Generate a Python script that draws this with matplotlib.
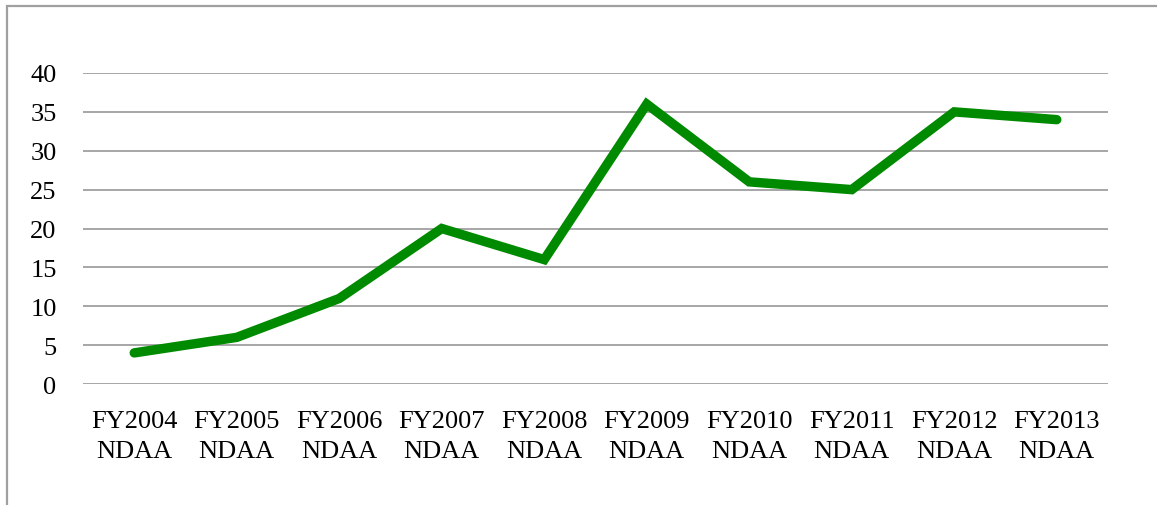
import matplotlib
matplotlib.use("Agg")
import matplotlib.pyplot as plt
from matplotlib.patches import Rectangle

categories = ["FY2004\nNDAA", "FY2005\nNDAA", "FY2006\nNDAA", "FY2007\nNDAA",
              "FY2008\nNDAA", "FY2009\nNDAA", "FY2010\nNDAA", "FY2011\nNDAA",
              "FY2012\nNDAA", "FY2013\nNDAA"]
values = [4, 6, 11, 20, 16, 36, 26, 25, 35, 34]
y_ticks = [0, 5, 10, 15, 20, 25, 30, 35, 40]

plt.rcParams["font.family"] = ["Liberation Serif", "DejaVu Serif"]

W, H = 1157, 506
fig = plt.figure(figsize=(W / 100, H / 100), dpi=100)
ax = fig.add_axes([83 / W, 1 - 385 / H, (1108 - 83) / W, (385 - 74) / H])

# outer frame (only top and left visible in the crop)
fig.patches.append(Rectangle((7 / W, -0.1), 1.2, 1 - 7 / H + 0.1,
                             transform=fig.transFigure, fill=False,
                             edgecolor="#a0a0a0", linewidth=1.6))

x = list(range(len(values)))
ax.plot(x, values, color="#008a00", linewidth=6.8, solid_capstyle="round",
        solid_joinstyle="miter", zorder=3)

ax.set_xlim(-0.5, len(values) - 0.5)
ax.set_ylim(0, 40)
ax.set_yticks(y_ticks)
ax.set_xticks(x)
ax.set_xticklabels(categories, linespacing=1.45)
ax.grid(axis="y", color="#a6a6a6", linewidth=1.4)
ax.set_axisbelow(True)
ax.tick_params(length=0, labelsize=19, pad=19)
for s in ax.spines.values():
    s.set_visible(False)

fig.savefig("out.png", dpi=100)
